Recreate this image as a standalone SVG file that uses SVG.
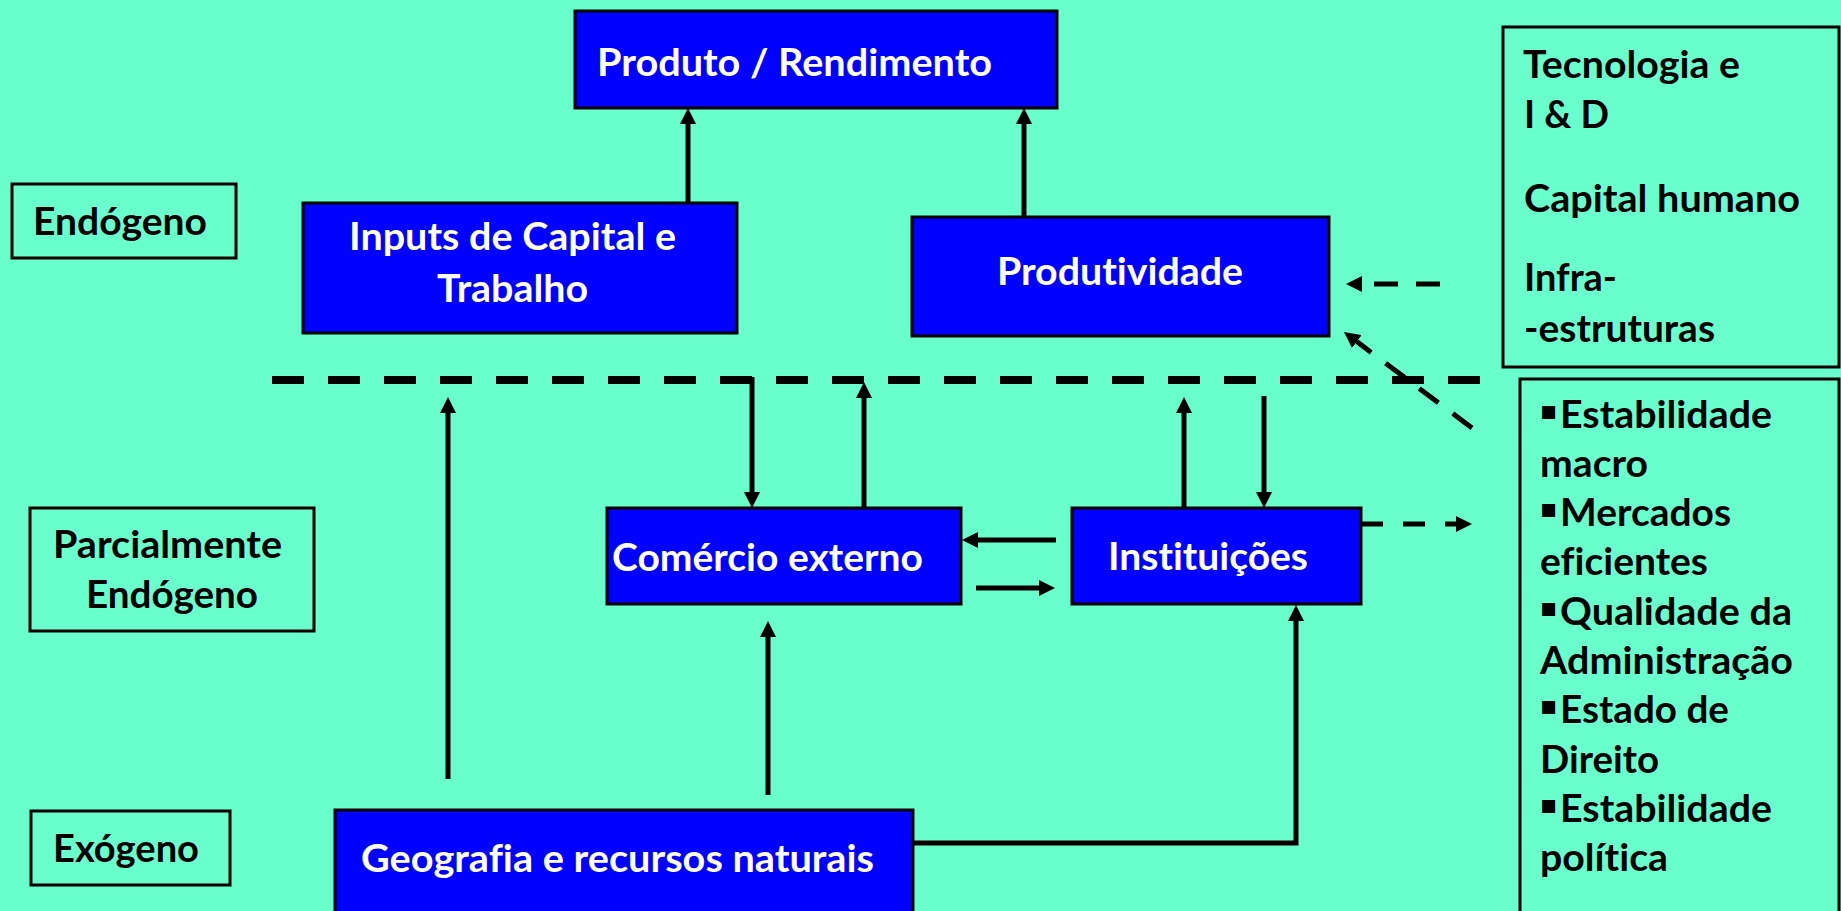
<svg xmlns="http://www.w3.org/2000/svg" width="1841" height="911" viewBox="0 0 1841 911">
<style>
.blue{fill:#0000FF;stroke:#000;stroke-width:3}
.lbl{fill:none;stroke:#000;stroke-width:3}
.t{font-family:Lato,'Open Sans','Liberation Sans',sans-serif;font-weight:700;font-size:38px;font-variant-ligatures:none;font-feature-settings:"liga" 0,"dlig" 0,"clig" 0}
.w{fill:#fff}
.k{fill:#000}
.c{stroke:#000;stroke-width:5;fill:none}
.bul{font-family:'DejaVu Sans',sans-serif;font-size:26px;fill:#000}
</style>
<defs>
<marker id="ah" viewBox="0 0 16 16" markerWidth="16" markerHeight="16" markerUnits="userSpaceOnUse" refX="0" refY="8" orient="auto">
<path d="M0,0 L16,8 L0,16 z" fill="#000"/>
</marker>
</defs>
<rect width="1841" height="911" fill="#69FFCC"/>

<g id="connectors">
<line class="c" x1="688" y1="219" x2="688" y2="124" marker-end="url(#ah)"/>
<line class="c" x1="1024" y1="219" x2="1024" y2="124" marker-end="url(#ah)"/>
<line x1="272" y1="380" x2="1480" y2="380" stroke="#000" stroke-width="8" stroke-dasharray="32 24"/>
<line class="c" x1="448" y1="779" x2="448" y2="413" marker-end="url(#ah)"/>
<line class="c" x1="752" y1="377" x2="752" y2="492" marker-end="url(#ah)"/>
<line class="c" x1="864" y1="508" x2="864" y2="398" marker-end="url(#ah)"/>
<line class="c" x1="1184" y1="508" x2="1184" y2="413" marker-end="url(#ah)"/>
<line class="c" x1="1264" y1="396" x2="1264" y2="492" marker-end="url(#ah)"/>
<line class="c" x1="1056" y1="540" x2="978" y2="540" marker-end="url(#ah)"/>
<line class="c" x1="976" y1="588" x2="1039" y2="588" marker-end="url(#ah)"/>
<line class="c" x1="768" y1="795" x2="768" y2="637" marker-end="url(#ah)"/>
<path class="c" d="M913,843 H1296 V621" marker-end="url(#ah)"/>
<line class="c" x1="1361" y1="524" x2="1456" y2="524" stroke-dasharray="22 20" marker-end="url(#ah)"/>
<line class="c" x1="1440" y1="284" x2="1362" y2="284" stroke-dasharray="24 18" marker-end="url(#ah)"/>
<line class="c" x1="1472" y1="428" x2="1356.8" y2="341.6" stroke-dasharray="24 18" marker-end="url(#ah)"/>
</g>

<g id="produto">
<rect class="blue" x="575" y="11" width="482" height="97"/>
<text class="t w" x="597" y="76" textLength="395" lengthAdjust="spacingAndGlyphs">Produto / Rendimento</text>
</g>
<g id="inputs">
<rect class="blue" x="303" y="203" width="434" height="130"/>
<text class="t w" x="349" y="250" textLength="327" lengthAdjust="spacingAndGlyphs">Inputs de Capital e</text>
<text class="t w" x="437" y="302" textLength="151" lengthAdjust="spacingAndGlyphs">Trabalho</text>
</g>
<g id="produtividade">
<rect class="blue" x="912" y="217" width="417" height="119"/>
<text class="t w" x="997" y="285" textLength="246" lengthAdjust="spacingAndGlyphs">Produtividade</text>
</g>
<g id="endogeno">
<rect class="lbl" x="12" y="184" width="224" height="74"/>
<text class="t k" x="33" y="235" textLength="174" lengthAdjust="spacingAndGlyphs">Endógeno</text>
</g>
<g id="parcialmente">
<rect class="lbl" x="30" y="508" width="284" height="123"/>
<text class="t k" x="53" y="558" textLength="229" lengthAdjust="spacingAndGlyphs">Parcialmente</text>
<text class="t k" x="86" y="608" textLength="172" lengthAdjust="spacingAndGlyphs">Endógeno</text>
</g>
<g id="exogeno">
<rect class="lbl" x="31" y="811" width="199" height="74"/>
<text class="t k" x="53" y="862" textLength="146" lengthAdjust="spacingAndGlyphs">Exógeno</text>
</g>
<g id="comercio">
<rect class="blue" x="607" y="508" width="354" height="96"/>
<text class="t w" x="612" y="571" textLength="311" lengthAdjust="spacingAndGlyphs">Comércio externo</text>
</g>
<g id="instituicoes">
<rect class="blue" x="1072" y="508" width="289" height="96"/>
<text class="t w" x="1108" y="570" textLength="200" lengthAdjust="spacingAndGlyphs">Instituições</text>
</g>
<g id="geografia">
<rect class="blue" x="335" y="810" width="578" height="110"/>
<text class="t w" x="361" y="872" textLength="513" lengthAdjust="spacingAndGlyphs">Geografia e recursos naturais</text>
</g>
<g id="tecnologia">
<rect class="lbl" x="1503" y="27" width="336" height="340"/>
<text class="t k" x="1523" y="78" textLength="217" lengthAdjust="spacingAndGlyphs">Tecnologia e</text>
<text class="t k" x="1524" y="128" textLength="85" lengthAdjust="spacingAndGlyphs">I &amp; D</text>
<text class="t k" x="1524" y="212" textLength="276" lengthAdjust="spacingAndGlyphs">Capital humano</text>
<text class="t k" x="1524" y="291" textLength="93" lengthAdjust="spacingAndGlyphs">Infra-</text>
<text class="t k" x="1524" y="342" textLength="191" lengthAdjust="spacingAndGlyphs">-estruturas</text>
</g>
<g id="estabilidade">
<rect class="lbl" x="1520" y="379" width="319" height="545"/>
<text class="bul" x="1540" y="419">▪</text>
<text class="t k" x="1560" y="428" textLength="212" lengthAdjust="spacingAndGlyphs">Estabilidade</text>
<text class="t k" x="1540" y="477" textLength="108" lengthAdjust="spacingAndGlyphs">macro</text>
<text class="bul" x="1540" y="517">▪</text>
<text class="t k" x="1560" y="526" textLength="171" lengthAdjust="spacingAndGlyphs">Mercados</text>
<text class="t k" x="1540" y="575" textLength="168" lengthAdjust="spacingAndGlyphs">eficientes</text>
<text class="bul" x="1540" y="616">▪</text>
<text class="t k" x="1560" y="625" textLength="232" lengthAdjust="spacingAndGlyphs">Qualidade da</text>
<text class="t k" x="1540" y="674" textLength="253" lengthAdjust="spacingAndGlyphs">Administração</text>
<text class="bul" x="1540" y="714">▪</text>
<text class="t k" x="1560" y="723" textLength="169" lengthAdjust="spacingAndGlyphs">Estado de</text>
<text class="t k" x="1540" y="773" textLength="119" lengthAdjust="spacingAndGlyphs">Direito</text>
<text class="bul" x="1540" y="813">▪</text>
<text class="t k" x="1560" y="822" textLength="212" lengthAdjust="spacingAndGlyphs">Estabilidade</text>
<text class="t k" x="1540" y="871" textLength="128" lengthAdjust="spacingAndGlyphs">política</text>
</g>
</svg>
